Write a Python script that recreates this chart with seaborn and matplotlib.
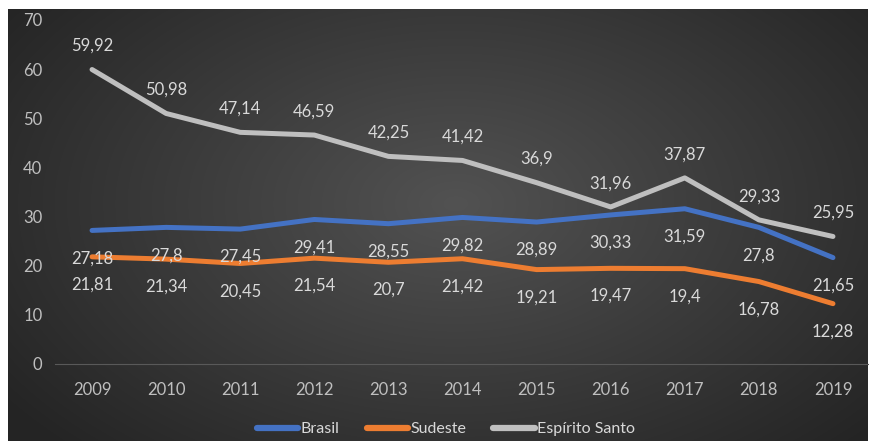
import numpy as np
import pandas as pd
import matplotlib
matplotlib.use("Agg")
import matplotlib.pyplot as plt
import seaborn as sns
from matplotlib.lines import Line2D

years = ["2009", "2010", "2011", "2012", "2013", "2014", "2015", "2016", "2017", "2018", "2019"]
brasil = [27.18, 27.8, 27.45, 29.41, 28.55, 29.82, 28.89, 30.33, 31.59, 27.8, 21.65]
sudeste = [21.81, 21.34, 20.45, 21.54, 20.7, 21.42, 19.21, 19.47, 19.4, 16.78, 12.28]
espirito_santo = [59.92, 50.98, 47.14, 46.59, 42.25, 41.42, 36.9, 31.96, 37.87, 29.33, 25.95]
series_names = ["Brasil", "Sudeste", "Espírito Santo"]
y_ticks = [0, 10, 20, 30, 40, 50, 60, 70]

colors = {"Brasil": "#4472C4", "Sudeste": "#ED7D31", "Espírito Santo": "#BFBFBF"}
label_offsets = {"Brasil": -20, "Sudeste": -20, "Espírito Santo": 17}
text_color = "#D9D9D9"
font_size = 12

sns.set_theme(style="white")
plt.rcParams["font.family"] = ["Lato", "DejaVu Sans"]

df = pd.DataFrame({
    "Ano": years * 3,
    "Valor": brasil + sudeste + espirito_santo,
    "Série": [s for s in series_names for _ in years],
})

fig = plt.figure(figsize=(8.7, 4.41), dpi=100)
fig.patch.set_facecolor("white")

# dark radial-gradient panel behind the chart
bg = fig.add_axes([8 / 870, 0, 860 / 870, 432 / 441])
h, w = 432, 860
yy, xx = np.mgrid[0:h, 0:w]
cx, cy = 0.52 * w, 0.45 * h
r = np.sqrt(((xx - cx) / (0.65 * w)) ** 2 + ((yy - cy) / (0.8 * h)) ** 2)
r = np.clip(r, 0, 1)
inner, outer = 0x52, 0x24
shade = (inner + (outer - inner) * r) / 255.0
img = np.dstack([shade, shade, shade])
bg.imshow(img, aspect="auto", interpolation="bilinear")
bg.axis("off")

ax = fig.add_axes([55 / 870, (441 - 364) / 441, 815 / 870, 344 / 441])
ax.patch.set_alpha(0)

sns.lineplot(data=df, x="Ano", y="Valor", hue="Série", palette=colors,
             linewidth=3.6, ax=ax, legend=False, sort=False)

for name, vals in zip(series_names, [brasil, sudeste, espirito_santo]):
    off = label_offsets[name]
    for i, v in enumerate(vals):
        ax.annotate(f"{v:g}".replace(".", ","), (i, v), xytext=(0, off),
                    textcoords="offset points", ha="center", va="center",
                    fontsize=font_size, color=text_color)

ax.set_xlim(-0.5, len(years) - 0.5)
ax.set_ylim(0, 70)
ax.set_yticks(y_ticks)
ax.set_xlabel("")
ax.set_ylabel("")
ax.tick_params(axis="both", length=0, labelsize=font_size, labelcolor="#BFBFBF")
ax.tick_params(axis="x", pad=13)
ax.tick_params(axis="y", pad=9)
for side in ["top", "right", "left"]:
    ax.spines[side].set_visible(False)
ax.spines["bottom"].set_color("#595959")
ax.spines["bottom"].set_linewidth(0.8)
ax.grid(False)

handles = [Line2D([0], [0], color=colors[s], lw=4.5, solid_capstyle="round") for s in series_names]
fig.legend(handles, series_names, loc="center", bbox_to_anchor=(446 / 870, 1 - 429 / 441),
           ncol=3, frameon=False, handlelength=2.6, handletextpad=0.15, columnspacing=1.7,
           fontsize=11.5, labelcolor=text_color)

fig.savefig("out.png", dpi=100)
